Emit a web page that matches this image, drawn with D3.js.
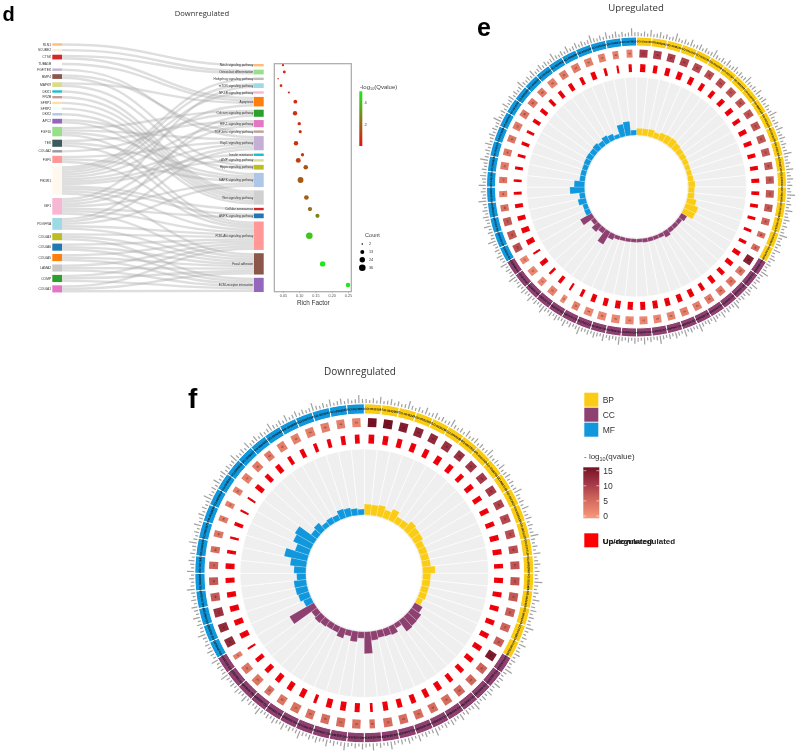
<!DOCTYPE html>
<meta charset="utf-8">
<style>
body { margin: 0; background: #fff; }
svg { display: block; filter: blur(0.5px); }
text { font-family: "Liberation Sans", sans-serif; }
.title { font-family: "Open Sans", sans-serif; fill: #333; text-anchor: middle; }
.panel { font-weight: bold; fill: #000; }
</style>
<body>
<script src="https://d3js.org/d3.v7.min.js"></script>
<script>

///------> Data <-----/////
// panel d, genes on the left of the sankey
var geneNames = ["RLN1","SCUBE2","CTSK","TUBA1B","FGF/TEK","BMP4","MAPK9","DKK1","FRZB","SFRP1","SFRP2","DKK2","APC2",
  "FGF10","TEK","COL4A2","FGF5","PIK3R1","IGF1","PDGFRA","COL6A3","COL6A6","COL6A5","LAMA2","COMP","COL6A1"];
var geneColors = ["#ffbb78","#fdeed2","#d62728","#ffffff","#c5b0d5","#8c564b","#dbdb8d","#17becf","#c49c94","#ffdfa8","#f0fff8","#aec7e8","#9467bd",
  "#98df8a","#3f5a5a","#999999","#ff9896","#fff8ee","#f7b6d2","#9edae5","#bcbd22","#1f77b4","#ff7f0e","#c7c7c7","#2ca02c","#e377c2"];

var pathwayNames = ["Notch signaling pathway","Osteoclast differentiation","Hedgehog signaling pathway","mTOR signaling pathway","NF-kB signaling pathway",
  "Apoptosis","Calcium signaling pathway","HIF-1 signaling pathway","TGF-beta signaling pathway","Rap1 signaling pathway","Insulin resistance",
  "cAMP signaling pathway","Hippo signaling pathway","MAPK signaling pathway","Wnt signaling pathway","Cellular senescence","AMPK signaling pathway",
  "PI3K-Akt signaling pathway","Focal adhesion","ECM-receptor interaction"];
var pathwayColors = ["#ffbb78","#98df8a","#bbbbbb","#9edae5","#f7b6d2","#ff7f0e","#2ca02c","#e377c2","#c49c94","#c5b0d5","#17becf","#dbdb8d",
  "#bcbd22","#aec7e8","#d0d0d0","#d62728","#1f77b4","#ff9896","#8c564b","#9467bd"];
var richFactor = [0.05,0.054,0.035,0.044,0.068,0.088,0.087,0.10,0.103,0.09,0.11,0.097,0.12,0.104,0.122,0.133,0.156,0.131,0.172,0.25];
var pathwayQ = [0.6,0.6,0.5,0.6,0.6,0.7,0.8,0.8,0.9,0.8,1.0,1.1,1.6,1.7,1.8,2.2,2.7,4.2,4.9,4.9];
var pathwayCount = [4,7,2,6,4,12,16,10,8,16,9,20,17,28,18,15,14,36,24,17];

// which gene goes to which pathway, by name index
var geneLinks = [[0,0],[1,1],[2,1],[2,5],[3,5],[4,9],[5,8],[5,12],[6,5],[6,13],[7,14],[8,14],[9,14],[10,14],[11,14],[12,12],[12,14],
  [13,6],[13,9],[13,13],[13,17],[14,7],[14,13],[14,17],[15,6],[16,9],[16,13],[16,17],
  [17,2],[17,3],[17,4],[17,5],[17,7],[17,9],[17,10],[17,11],[17,15],[17,16],[17,17],[17,18],
  [18,3],[18,7],[18,9],[18,13],[18,16],[18,17],[18,18],
  [19,6],[19,9],[19,13],[19,17],[19,18],
  [20,17],[20,18],[20,19],[21,17],[21,18],[21,19],[22,17],[22,18],[22,19],[23,17],[23,18],[23,19],[24,17],[24,18],[24,19],[25,17],[25,18],[25,19]];

var richTicks = [0.05,0.10,0.15,0.20,0.25];
var qTicks = [2,4];
var countLegend = [2,13,24,36];

// panels e and f, 60 terms, 20 per ontology
var ontologyNames = ["BP","CC","MF"];
var ontologyColors = ["#facc14","#8e4071","#1097dc"];
var goIds = ["GO:0030198","GO:0043062","GO:0045229","GO:0001503","GO:0030199","GO:0060348","GO:0001501","GO:0061448","GO:0048705","GO:0007155",
  "GO:0022610","GO:0030155","GO:0051216","GO:0007160","GO:0002062","GO:0060485","GO:0001568","GO:0001944","GO:0048514","GO:0035295",
  "GO:0062023","GO:0031012","GO:0005581","GO:0005788","GO:0098644","GO:0005604","GO:0005583","GO:0044420","GO:0043292","GO:0030016",
  "GO:0030017","GO:0031674","GO:0030018","GO:0001725","GO:0005925","GO:0030055","GO:0005924","GO:0098589","GO:0045121","GO:0016324",
  "GO:0005201","GO:0030020","GO:0005198","GO:0005539","GO:0008201","GO:1901681","GO:0050839","GO:0005178","GO:0019838","GO:0005518",
  "GO:0048407","GO:0005509","GO:0008237","GO:0004222","GO:0004252","GO:0008083","GO:0005102","GO:0030545","GO:0048018","GO:0070851"];

var upBars = [8.3,8.3,9,7.3,9.3,10,10.3,9,8,7.5,7,6.5,6.5,7,8.3,7.7,8,11,14.7,14,
  8,6,6,6,8,5.5,5.5,5.5,5.5,5,5,5,5,5.5,7.7,16,7,10,6,14.7,
  7,6.5,9.7,7.3,16.3,12,7,7,7,7.5,8,7.7,8.7,7,9.5,8,5.5,14,15.7,6.7];
var upQ = [10,9.5,9.5,9,8.5,8,8,7.5,7.5,7.5,7.5,7,7,7,7,7,7,6,5,5,
  13,4,4,3.5,3.5,3,3,2.5,2,2,2,2,2,2,3,1.5,2.5,2,2,2,
  8,7,7,4.5,3,4,3.5,4,4,3.5,4,4,3.5,3,3.5,3.5,3,3,3,2.5];
var upCount = [55,54,52,55,56,52,50,52,50,50,52,52,50,50,50,50,50,45,38,40,
  58,50,52,50,52,52,52,52,52,54,56,56,56,56,46,32,50,42,50,42,
  54,54,54,46,40,42,50,46,46,52,48,50,46,52,50,54,52,46,40,40];
var upGenes = [40,32,36,40,36,32,32,36,36,32,36,34,32,32,32,28,28,24,22,26,
  36,36,34,36,30,38,38,38,38,38,40,40,36,36,24,16,28,20,36,16,
  40,40,36,32,22,20,22,22,26,22,30,30,28,30,32,28,36,22,16,24];

var downBars = [12.3,12,13,10,13.5,8.5,9,13,11.5,11,9,9.5,9.5,10,14,9.5,9.5,9,9,7.5,
  10.5,13.5,14,15,6.5,10.5,9.5,9,10.5,23.5,8,12,7.5,11.5,8,8,9,10,8.5,29.5,
  10,12.7,13.7,14,10.7,13.5,17.7,25,16,21,23.3,9,11,6.7,8,7.5,11,10,8.5,7.3];
var downQ = [15,15,13.5,12.5,12,11,11,10.5,10,10,9,8.5,8,8,7.5,7.5,7,6.5,6,6.5,
  14,6,5.5,5.5,5,5,5,5,5,4.5,4.5,5,5,4.5,4.5,4,4.5,4,4,3,
  12,12,11,7,7,6,5,4,3.5,3,3,3,3.5,3.5,3,3,3,3,3,2.5];
var downCount = [52,54,50,50,48,50,48,50,48,48,48,50,50,46,46,48,50,48,46,46,
  50,48,46,50,50,48,50,50,52,32,50,50,50,48,52,48,40,50,50,30,
  52,50,52,48,46,44,38,40,34,32,36,44,46,44,48,48,50,50,48,50];
var downGenes = [38,36,34,36,34,38,36,32,36,34,34,34,36,36,30,36,34,34,34,36,
  36,34,32,30,36,34,34,34,34,18,34,38,38,22,36,36,36,34,30,14,
  38,38,38,36,34,36,24,16,26,14,14,34,30,34,26,30,24,26,30,32];

var tickLengths = [4,3,5,3,7,3,4,6,3,5,3,4,8];
var heatTicks = [0,5,10,15];
///------> Data (end) <-----/////

var svg = d3.select("body").append("svg")
    .attr("width", 797)
    .attr("height", 754);
var defs = svg.append("defs");

function label(g, x, y, size, str, cls) {
  return g.append("text").attr("x", x).attr("y", y).attr("font-size", size)
    .attr("class", cls || null).text(str);
}

label(svg, 2.5, 20.5, 20, "d", "panel");
label(svg, 477, 36, 25, "e", "panel");
label(svg, 188, 408, 28, "f", "panel");
label(svg, 202, 16, 7.6, "Downregulated", "title");
label(svg, 636, 10.5, 9.6, "Upregulated", "title");
label(svg, 360, 375, 10, "Downregulated", "title");

///------> Panel d sankey <-----/////
var unit = d3.scaleLinear().domain([0, 1]).range([0, 2.37]);

function layoutNodes(names, top, gap, side) {
  var y = top;
  return names.map(function(name, i) {
    var v = geneLinks.filter(function(l) { return l[side] === i; }).length;
    var node = {name: name, i: i, value: v, y0: y, y1: y + unit(v), offset: 0};
    y = node.y1 + gap;
    return node;
  });
}

var geneNodes = layoutNodes(geneNames, 43.3, 3.33, 0);
var pathNodes = layoutNodes(pathwayNames, 64, 3.27, 1);

var leftEdge = 62, rightEdge = 254, nodeW = 9.7;
var linkPath = d3.linkHorizontal();

var sankey = svg.append("g");
sankey.append("g").selectAll("path")
    .data(geneLinks)
    .enter().append("path")
    .attr("fill", "none")
    .attr("stroke", "#a8a8a8")
    .attr("stroke-opacity", 0.38)
    .attr("stroke-width", unit(1))
    .attr("d", function(d) {
      var a = geneNodes[d[0]], b = pathNodes[d[1]];
      var ya = a.y0 + a.offset + unit(1) / 2, yb = b.y0 + b.offset + unit(1) / 2;
      a.offset += unit(1);
      b.offset += unit(1);
      return linkPath({source: [leftEdge, ya], target: [rightEdge, yb]});
    });

sankey.append("g").selectAll("rect")
    .data(geneNodes)
    .enter().append("rect")
    .attr("x", leftEdge - nodeW)
    .attr("y", function(d) { return d.y0; })
    .attr("width", nodeW)
    .attr("height", function(d) { return d.y1 - d.y0; })
    .attr("fill", function(d) { return geneColors[d.i]; });

sankey.append("g").selectAll("text")
    .data(geneNodes)
    .enter().append("text")
    .attr("x", leftEdge - nodeW - 1.2)
    .attr("y", function(d) { return (d.y0 + d.y1) / 2; })
    .attr("dy", "0.35em")
    .attr("text-anchor", "end")
    .attr("font-size", 3.3)
    .attr("fill", "#333")
    .text(function(d) { return d.name; });

sankey.append("g").selectAll("rect")
    .data(pathNodes)
    .enter().append("rect")
    .attr("x", rightEdge)
    .attr("y", function(d) { return d.y0; })
    .attr("width", nodeW)
    .attr("height", function(d) { return d.y1 - d.y0; })
    .attr("fill", function(d) { return pathwayColors[d.i]; });

sankey.append("g").selectAll("text")
    .data(pathNodes)
    .enter().append("text")
    .attr("x", rightEdge - 0.8)
    .attr("y", function(d) { return (d.y0 + d.y1) / 2; })
    .attr("dy", "0.35em")
    .attr("text-anchor", "end")
    .attr("font-size", 3.1)
    .attr("fill", "#333")
    .text(function(d) { return d.name; });

///------> Panel d dot plot <-----/////
var dotX = d3.scaleLinear().domain([0.0233, 0.2601]).range([274.3, 351.3]);
var dotR = d3.scaleSqrt().domain([0, 36]).range([0, 3.3]);
var dotColor = d3.scaleLinear().domain([0, 5.05]).range(["#e8100f", "#1eea1e"]);

svg.append("rect")
    .attr("x", 274.3).attr("y", 63.7)
    .attr("width", 77).attr("height", 228)
    .attr("fill", "none")
    .attr("stroke", "#a8a8a8")
    .attr("stroke-width", 1.2);

svg.append("g")
    .attr("transform", "translate(0,291.7)")
    .call(d3.axisBottom(dotX).tickValues(richTicks).tickFormat(d3.format(".2f")).tickSize(1.5).tickPadding(1))
    .call(function(g) {
      g.select(".domain").remove();
      g.selectAll("line").attr("stroke", "#888").attr("stroke-width", 0.5);
      g.selectAll("text").attr("font-size", 3.8).attr("fill", "#555");
    });

label(svg, 313.3, 305, 6.4, "Rich Factor").attr("text-anchor", "middle").attr("fill", "#333");

svg.append("g").selectAll("circle")
    .data(pathNodes)
    .enter().append("circle")
    .attr("cx", function(d) { return dotX(richFactor[d.i]); })
    .attr("cy", function(d) { return (d.y0 + d.y1) / 2; })
    .attr("r", function(d) { return dotR(pathwayCount[d.i]); })
    .attr("fill", function(d) { return dotColor(pathwayQ[d.i]); });

// q value colour bar
var qY = d3.scaleLinear().domain([0, 5.05]).range([146, 91.3]);
var qGrad = defs.append("linearGradient").attr("id", "qGrad")
    .attr("x1", 0).attr("x2", 0).attr("y1", 1).attr("y2", 0);
[0, 5.05].forEach(function(v, i) {
  qGrad.append("stop").attr("offset", i).attr("stop-color", dotColor(v));
});
svg.append("rect").attr("x", 359.3).attr("y", qY(5.05))
    .attr("width", 3).attr("height", qY(0) - qY(5.05))
    .attr("fill", "url(#qGrad)");
svg.append("g").selectAll("text")
    .data(qTicks)
    .enter().append("text")
    .attr("x", 364.5)
    .attr("y", function(d) { return qY(d); })
    .attr("dy", "0.35em")
    .attr("font-size", 4)
    .attr("fill", "#333")
    .text(function(d) { return d; });

var qTitle = label(svg, 360, 89, 6, "-log").attr("fill", "#444");
qTitle.append("tspan").attr("font-size", 3.8).attr("dy", 1.4).text("10");
qTitle.append("tspan").attr("dy", -1.4).text("(Qvalue)");

// count legend
label(svg, 365, 237, 5.6, "Count").attr("fill", "#444");
var countY = d3.scalePoint().domain(countLegend).range([244, 267.7]);
svg.append("g").selectAll("circle")
    .data(countLegend)
    .enter().append("circle")
    .attr("cx", 362.3)
    .attr("cy", function(d) { return countY(d); })
    .attr("r", function(d) { return dotR(d); })
    .attr("fill", "#000");
svg.append("g").selectAll("text")
    .data(countLegend)
    .enter().append("text")
    .attr("x", 369)
    .attr("y", function(d) { return countY(d); })
    .attr("dy", "0.35em")
    .attr("font-size", 3.8)
    .attr("fill", "#333")
    .text(function(d) { return d; });

///------> Panels e and f <-----/////
var heatColor = d3.scaleLinear()
    .domain([0, 5, 10, 15])
    .range(["#f8997c", "#d76d5e", "#a63a48", "#741225"]);
var sectorWidth = d3.scaleLinear().domain([0, 100]).range([0, 1.05]);

function drawCircle(cx, cy, R, bars, q, counts, genes) {
  var g = svg.append("g").attr("transform", "translate(" + cx + "," + cy + ")");
  var items = d3.range(bars.length);
  var angle = d3.scaleBand().domain(items).range([0, 2 * Math.PI]);
  var step = angle.bandwidth();
  var deg = function(i) { return (angle(i) + step / 2) * 180 / Math.PI; };
  var ontology = function(i) { return Math.floor(i / (bars.length / ontologyNames.length)); };

  var r0 = R * 0.336;
  var barR = d3.scaleLinear().domain([0, 30]).range([r0, r0 + 30]);
  var rHeat = R * 0.89, rRed = R * 0.793, depth = R * 0.053;

  var arc = d3.arc()
      .startAngle(function(i) { return angle(i); })
      .endAngle(function(i) { return angle(i) + step; });

  // grey track
  g.append("g").selectAll("path")
      .data(items)
      .enter().append("path")
      .attr("d", function(i) { return arc.innerRadius(r0).outerRadius(R * 0.733)(i); })
      .attr("fill", "#efefef")
      .attr("stroke", "#fff")
      .attr("stroke-width", 0.6);

  // bars
  g.append("g").selectAll("path")
      .data(items)
      .enter().append("path")
      .attr("d", function(i) { return arc.innerRadius(r0 + 1.5).outerRadius(barR(bars[i]))(i); })
      .attr("fill", function(i) { return ontologyColors[ontology(i)]; })
      .attr("stroke", "#fff")
      .attr("stroke-width", 0.2);

  // up/down genes
  var red = g.append("g").selectAll("g")
      .data(items)
      .enter().append("g")
      .attr("transform", function(i) { return "rotate(" + deg(i) + ")translate(0," + (-rRed) + ")"; });
  red.append("rect")
      .attr("x", function(i) { return -sectorWidth(genes[i]) * step * rRed / 2; })
      .attr("y", -depth / 2)
      .attr("width", function(i) { return sectorWidth(genes[i]) * step * rRed; })
      .attr("height", depth)
      .attr("fill", "#f5000a");
  red.append("text")
      .attr("text-anchor", "middle")
      .attr("dy", "0.35em")
      .attr("font-size", 2.2)
      .attr("fill", "#511")
      .text(function(i) { return genes[i]; });

  // q value cells
  var heat = g.append("g").selectAll("g")
      .data(items)
      .enter().append("g")
      .attr("transform", function(i) { return "rotate(" + deg(i) + ")translate(0," + (-rHeat) + ")"; });
  heat.append("rect")
      .attr("x", function(i) { return -sectorWidth(counts[i]) * step * rHeat / 2; })
      .attr("y", -depth / 2)
      .attr("width", function(i) { return sectorWidth(counts[i]) * step * rHeat; })
      .attr("height", depth)
      .attr("fill", function(i) { return heatColor(q[i]); });
  heat.append("text")
      .attr("text-anchor", "middle")
      .attr("dy", "0.35em")
      .attr("font-size", 2.4)
      .attr("fill", "#311")
      .text(function(i) { return counts[i]; });

  // term ring
  g.append("g").selectAll("path")
      .data(items)
      .enter().append("path")
      .attr("d", function(i) { return arc.innerRadius(R * 0.94).outerRadius(R)(i); })
      .attr("fill", function(i) { return ontologyColors[ontology(i)]; })
      .attr("stroke", "#fff")
      .attr("stroke-width", 1);
  g.append("g").selectAll("text")
      .data(items)
      .enter().append("text")
      .attr("transform", function(i) {
        return "rotate(" + deg(i) + ")translate(0," + (-R * 0.97) + ")";
      })
      .attr("text-anchor", "middle")
      .attr("dy", "0.35em")
      .attr("font-size", R * 0.0175)
      .attr("font-weight", "bold")
      .attr("fill", "#111")
      .text(function(i) { return goIds[i]; });

  // outer axis ticks
  var ticks = d3.range(bars.length * 5);
  var tickAngle = d3.scaleLinear().domain([-0.5, ticks.length - 0.5]).range([0, 360]);
  g.append("g").selectAll("line")
      .data(ticks)
      .enter().append("line")
      .attr("transform", function(t) { return "rotate(" + tickAngle(t) + ")"; })
      .attr("y1", -R - 0.8)
      .attr("y2", function(t) { return -R - 0.8 - tickLengths[t % tickLengths.length]; })
      .attr("stroke", "#a0a0a0")
      .attr("stroke-width", 1.2);
}

drawCircle(636.5, 187, 150, upBars, upQ, upCount, upGenes);
drawCircle(364.3, 573.3, 169.5, downBars, downQ, downCount, downGenes);

///------> Shared legend <-----/////
var legendY = d3.scaleBand().domain(ontologyNames).range([392.7, 437.7]);
svg.append("g").selectAll("rect")
    .data(ontologyNames)
    .enter().append("rect")
    .attr("x", 584.3)
    .attr("y", function(d) { return legendY(d); })
    .attr("width", 14)
    .attr("height", 14)
    .attr("fill", function(d, i) { return ontologyColors[i]; });
svg.append("g").selectAll("text")
    .data(ontologyNames)
    .enter().append("text")
    .attr("x", 602.7)
    .attr("y", function(d) { return legendY(d) + 7; })
    .attr("dy", "0.35em")
    .attr("font-size", 8.5)
    .attr("fill", "#333")
    .text(function(d) { return d; });

var legendTitle = label(svg, 584, 459, 8, "- log").attr("fill", "#333");
legendTitle.append("tspan").attr("font-size", 5.5).attr("dy", 1.6).text("10");
legendTitle.append("tspan").attr("dy", -1.6).text("(qvalue)");

var heatY = d3.scaleLinear().domain([0, 15]).range([516, 470.7]);
var heatGrad = defs.append("linearGradient").attr("id", "heatGrad")
    .attr("x1", 0).attr("x2", 0).attr("y1", 1).attr("y2", 0);
heatTicks.forEach(function(v, i) {
  heatGrad.append("stop").attr("offset", i / (heatTicks.length - 1)).attr("stop-color", heatColor(v));
});
svg.append("rect").attr("x", 583.3).attr("y", 467.3)
    .attr("width", 16).attr("height", 51)
    .attr("fill", "url(#heatGrad)");
var heatTick = svg.append("g").selectAll("g")
    .data(heatTicks)
    .enter().append("g")
    .attr("transform", function(d) { return "translate(0," + heatY(d) + ")"; });
[583.3, 596.3].forEach(function(x) {
  heatTick.append("line").attr("x1", x).attr("x2", x + 3)
      .attr("stroke", "#fff").attr("stroke-width", 0.6);
});
heatTick.append("text")
    .attr("x", 603.3)
    .attr("dy", "0.35em")
    .attr("font-size", 8.5)
    .attr("fill", "#333")
    .text(function(d) { return d; });

svg.append("rect").attr("x", 584.3).attr("y", 533.3)
    .attr("width", 14).attr("height", 14)
    .attr("fill", "#ff0000");
// the two labels sit on top of each other in the figure
label(svg, 602.7, 544, 8, "Up/down-regulated").attr("fill", "#222").attr("font-weight", "bold");
label(svg, 602.7, 544, 8, "Up-regulated").attr("fill", "#222").attr("font-weight", "bold");

</script>
</body>
